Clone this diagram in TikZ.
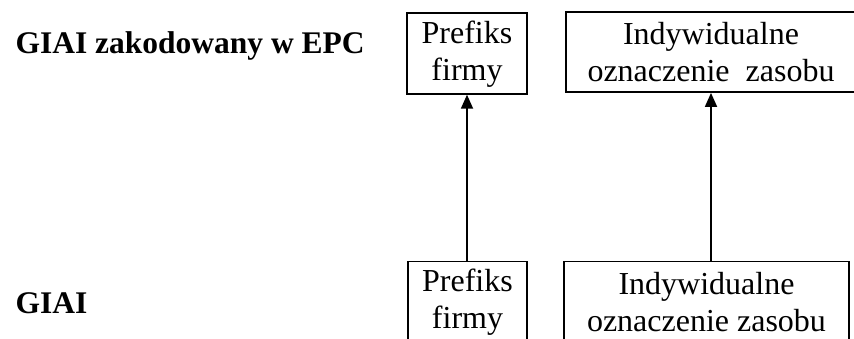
\documentclass[tikz,border=0pt]{standalone}
\usepackage{fontspec}
\setmainfont{Liberation Serif}
\usetikzlibrary{arrows.meta}
\begin{document}
\begin{tikzpicture}[x=1pt,y=-1pt,
    pole/.style={draw,line width=1.8pt,align=center,inner sep=0pt,font=\fontsize{32}{37}\selectfont},
    tytul/.style={anchor=base west,font=\fontsize{31.5}{36}\selectfont\bfseries},
    strzalka/.style={line width=1.8pt,-{Triangle[length=14pt,width=12pt]}}]
        \useasboundingbox (0,0) rectangle (854,338);
        \clip (0,0) rectangle (854,338);
        \node[tytul] (epc) at (12,53) {GIAI zakodowany w EPC};
        \node[tytul] (giai) at (12,313) {GIAI};
        \node[pole,minimum width=120pt,minimum height=81pt] (prefEPC) at (467,53.3) {\rule{0pt}{25pt}Prefiks\\firmy};
        \node[pole,minimum width=290pt,minimum height=80pt] (indEPC) at (711,52) {Indywidualne\\oznaczenie\ \ zasobu};
        \node[pole,minimum width=119pt,minimum height=81pt] (prefGIAI) at (467.5,302) {Prefiks\\firmy};
        \node[pole,minimum width=285pt,minimum height=81pt] (indGIAI) at (706.5,302) {Indywidualne\\oznaczenie zasobu};
        \draw[strzalka] (prefGIAI.north -| prefEPC.south) -- (prefEPC.south);
        \draw[strzalka] (indGIAI.north -| indEPC.south) -- (indEPC.south);
\end{tikzpicture}
\end{document}
